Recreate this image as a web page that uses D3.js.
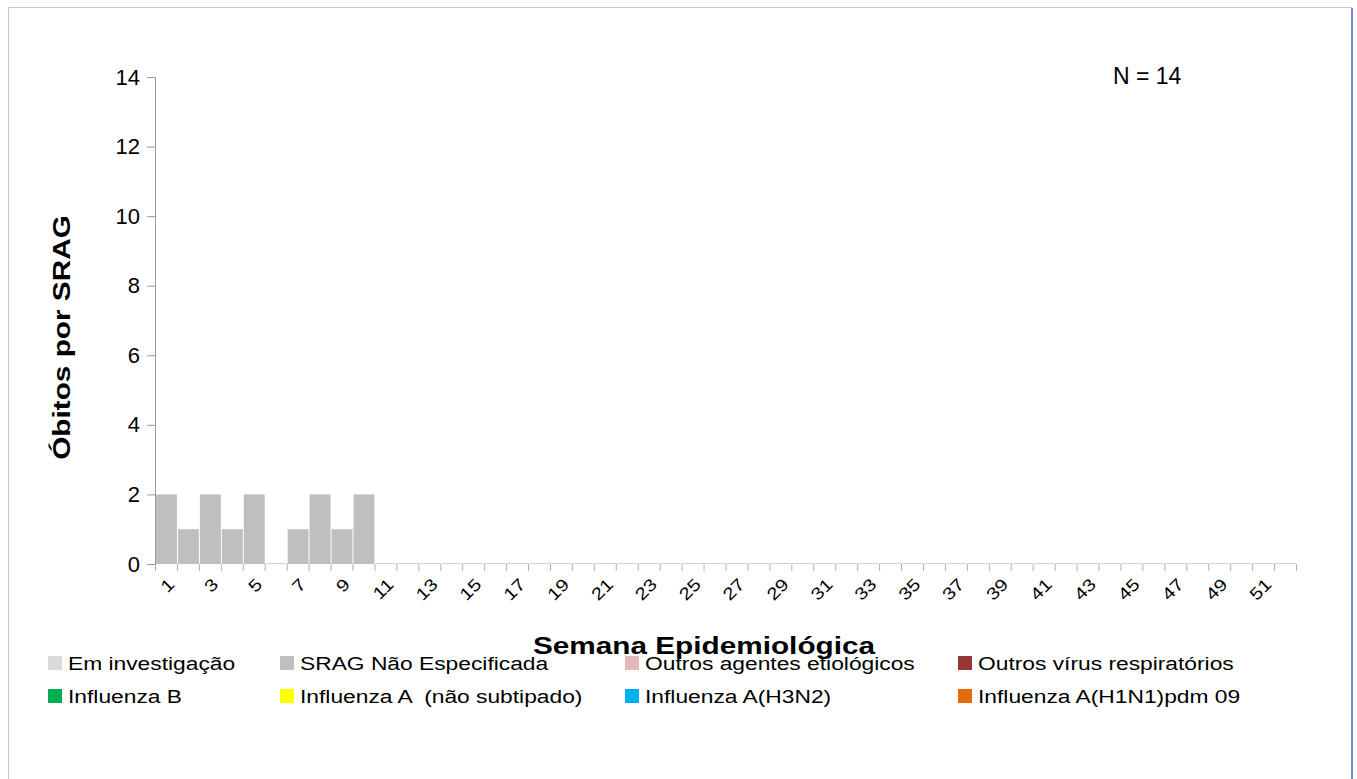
<!DOCTYPE html>
<html>
<head>
<meta charset="utf-8">
<script src="https://cdn.jsdelivr.net/npm/d3@7"></script>
<style>
  body { margin: 0; background: #fff; }
  svg { font-family: "Liberation Sans", Arial, sans-serif; }
  .legend text { white-space: pre; }
</style>
</head>
<body>
<div id="chart"></div>
<script>
// weeks 1..52
var weeks = d3.range(1, 53);
var seriesNames = ["Em investigação", "SRAG Não Especificada", "Outros agentes etiológicos", "Outros vírus respiratórios",
  "Influenza B", "Influenza A  (não subtipado)", "Influenza A(H3N2)", "Influenza A(H1N1)pdm 09"];
var seriesColors = ["#d9d9d9", "#bfbfbf", "#e6b9b8", "#953735", "#00b050", "#ffff00", "#00b0f0", "#e46c0a"];
// only "SRAG Não Especificada" has deaths, weeks 1-10
var sragNaoEspecificada = [2, 1, 2, 1, 2, 0, 1, 2, 1, 2];
var yTicks = [0, 2, 4, 6, 8, 10, 12, 14];

var data = weeks.map(function (w, i) {
  var row = { week: w };
  seriesNames.forEach(function (s) { row[s] = 0; });
  row["SRAG Não Especificada"] = sragNaoEspecificada[i] || 0;
  return row;
});

var W = 1357, H = 779;
var margin = { top: 77, right: 61, bottom: 215, left: 155 };
var width = W - margin.left - margin.right,
    height = H - margin.top - margin.bottom;
var stretch = 1.2; // text in the original is widened

var svg = d3.select("#chart").append("svg").attr("width", W).attr("height", H);

// outer frame
svg.append("rect").attr("x", 8.5).attr("y", 7.5).attr("width", 1343).attr("height", 800)
  .attr("fill", "none").attr("stroke", "#b9c9dc").attr("stroke-width", 1);
svg.append("line").attr("x1", 1352).attr("x2", 1352).attr("y1", 8).attr("y2", H)
  .attr("stroke", "#6f8fc4").attr("stroke-width", 2);

var g = svg.append("g").attr("transform", "translate(" + margin.left + "," + margin.top + ")");

var x = d3.scaleBand().domain(weeks).range([0, width]).padding(0);
var y = d3.scaleLinear().domain([0, 14]).range([height, 0]);

var stack = d3.stack().keys(seriesNames);
var layers = stack(data);

// baseline under each week (zero bars)
g.selectAll("line.zero").data(weeks).enter().append("line")
  .attr("class", "zero")
  .attr("x1", function (w) { return x(w) + 1; })
  .attr("x2", function (w) { return x(w) + x.bandwidth(); })
  .attr("y1", height - 0.5).attr("y2", height - 0.5)
  .attr("stroke", "#d0d0d0");

g.selectAll("g.layer").data(layers).enter().append("g")
  .attr("class", "layer")
  .attr("fill", function (d, i) { return seriesColors[i]; })
  .selectAll("rect").data(function (d) { return d; }).enter().append("rect")
  .attr("x", function (d) { return x(d.data.week) + 1; })
  .attr("width", x.bandwidth() - 1)
  .attr("y", function (d) { return y(d[1]); })
  .attr("height", function (d) { return y(d[0]) - y(d[1]); });

// y axis
var yAxis = g.append("g").call(d3.axisLeft(y).tickValues(yTicks).tickSize(8).tickPadding(7));
yAxis.select(".domain").attr("stroke", "#999");
yAxis.selectAll(".tick line").attr("stroke", "#999");
yAxis.selectAll(".tick text").attr("font-size", 22).attr("fill", "#000");

// x axis: ticks at band boundaries, labels at odd weeks
var xb = g.append("g").attr("transform", "translate(0," + height + ")");
xb.selectAll("line.tk").data(weeks.concat([53])).enter().append("line")
  .attr("class", "tk")
  .attr("x1", function (w) { return w <= 52 ? x(w) + 0.5 : width + 0.5; })
  .attr("x2", function (w) { return w <= 52 ? x(w) + 0.5 : width + 0.5; })
  .attr("y1", 0).attr("y2", 7).attr("stroke", "#b0b0b0");
xb.selectAll("text").data(weeks.filter(function (w) { return w % 2 === 1; })).enter().append("text")
  .attr("transform", function (w) {
    return "translate(" + (x(w) + x.bandwidth() / 2 + 1) + ",13) rotate(-45) scale(" + stretch + ",1)";
  })
  .attr("text-anchor", "end")
  .attr("dy", "0.7em")
  .attr("font-size", 17)
  .text(function (w) { return w; });

// axis titles
svg.append("text").attr("transform", "translate(70," + (margin.top + height / 2 + 17) + ") rotate(-90) scale(1.24,1)")
  .attr("text-anchor", "middle").attr("font-size", 24).attr("font-weight", "bold").text("Óbitos por SRAG");
svg.append("text").attr("transform", "translate(704,654) scale(1.24,1)")
  .attr("text-anchor", "middle").attr("font-size", 24).attr("font-weight", "bold").text("Semana Epidemiológica");

svg.append("text").attr("x", 1113).attr("y", 84).attr("font-size", 23).text("N = 14");

// legend
var legendX = [48, 280, 625, 958];
var legendY = [663, 696];
var lg = svg.append("g").attr("class", "legend").selectAll("g").data(seriesNames).enter().append("g")
  .attr("transform", function (d, i) {
    return "translate(" + legendX[i % 4] + "," + legendY[Math.floor(i / 4)] + ")";
  });
lg.append("rect").attr("x", 0).attr("y", -7).attr("width", 14).attr("height", 14)
  .attr("fill", function (d, i) { return seriesColors[i]; });
lg.append("text").attr("transform", "translate(20,0) scale(" + stretch + ",1)")
  .attr("dy", "0.35em").attr("font-size", 19).text(function (d) { return d; });
</script>
</body>
</html>
